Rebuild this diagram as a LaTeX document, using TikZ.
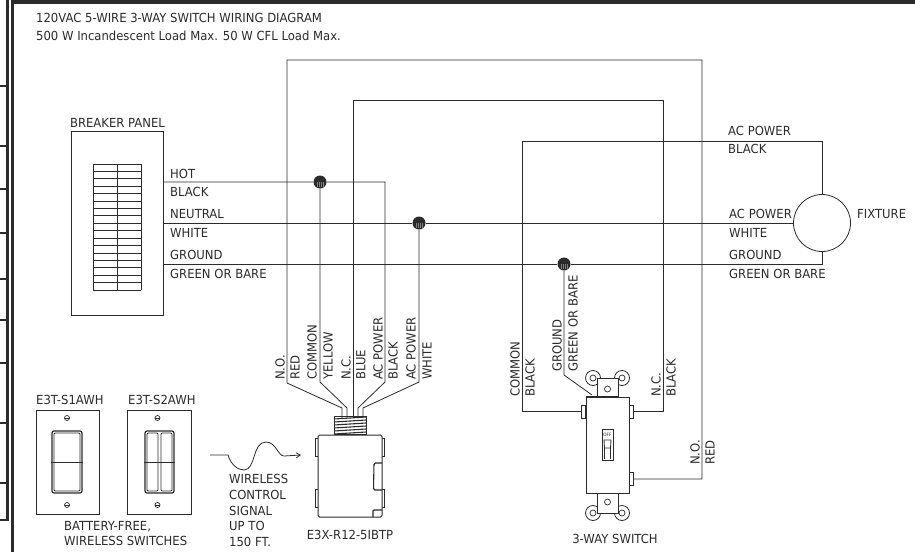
\documentclass[tikz,border=0pt]{standalone}
\usepackage{fontspec}
\setmainfont{DejaVu Sans}[FakeStretch=0.93]
\usetikzlibrary{arrows.meta}

\definecolor{ink}{HTML}{2B2B2B}
\tikzset{
	wire/.style={draw=ink, line width=0.8pt},
	thick wire/.style={draw=ink, line width=2.4pt},
	box/.style={draw=ink, line width=0.8pt, inner sep=0pt, fill=white},
	splice/.style={circle, fill=ink, inner sep=0pt, minimum size=13pt},
	label/.style={anchor=west, inner sep=0pt, text=ink, font=\fontsize{12.5}{15}\selectfont},
	center label/.style={label, anchor=center},
	wire label/.style={label, rotate=90},
	ear/.style={circle, draw=ink, line width=0.8pt, fill=white, inner sep=0pt, minimum size=15pt},
	hole/.style={circle, draw=ink, line width=0.7pt, inner sep=0pt, minimum size=6pt},
	screw/.style={circle, draw=ink, line width=0.7pt, inner sep=0pt, minimum size=5pt},
}

\begin{document}
\begin{tikzpicture}[x=1pt, y=-1pt]
	\useasboundingbox (0,0) rectangle (915,552);

	% sheet border
	\draw[thick wire, line width=4pt] (11,2) -- (915,2);
	\draw[thick wire, line width=3pt] (12,552) -- (12,0);
	\draw[thick wire] (7.5,0) -- (7.5,520) -- (0,520);
	\foreach \y in {86,146,189,233,279,320,363,423,483}
		\draw[thick wire] (0,\y) -- (8,\y);

	\node[label] (title) at (36,18) {120VAC 5-WIRE 3-WAY SWITCH WIRING DIAGRAM};
	\node[label] (subtitle) at (36,36) {500 W Incandescent Load Max. 50 W CFL Load Max.};

	% breaker panel
	\node[box, minimum width=92pt, minimum height=184pt] (panel) at (117,223) {};
	\node[center label] (panellabel) at (117.5,123) {BREAKER PANEL};
	\foreach \i in {0,...,17}
		\draw[wire] (93,164+7.41*\i) -- (141,164+7.41*\i);
	\draw[wire] (93,164) -- (93,290);
	\draw[wire] (117.5,164) -- (117.5,290);
	\draw[wire] (141,164) -- (141,290);

	% fixture
	\node[box, circle, minimum size=57pt] (fixture) at (822,223) {};
	\node[label] (fixturelabel) at (857,214) {FIXTURE};

	% splices
	\node[splice] (hotsplice) at (320,182) {};
	\node[splice] (neutralsplice) at (419,223) {};
	\node[splice] (groundsplice) at (564,264) {};

	% cable gland ends of the module leads
	\coordinate (lead1) at (342,418);
	\coordinate (lead2) at (347,418);
	\coordinate (lead3) at (353,418);
	\coordinate (lead4) at (358,418);
	\coordinate (lead5) at (363,418);

	% 3-way switch
	\node[ear] (eartl) at (593,378) {};
	\node[ear] (eartr) at (622,378) {};
	\node[ear] (earbl) at (593,513) {};
	\node[ear] (earbr) at (622,513) {};
	\node[hole] at (593,378) {};
	\node[hole] at (622,378) {};
	\node[hole] at (593,513) {};
	\node[hole] at (622,513) {};
	\node[box, minimum width=21pt, minimum height=26pt] (yoketop) at (607.5,391) {};
	\node[box, minimum width=21pt, minimum height=26pt] (yokebot) at (607.5,500) {};
	\node[hole] at (607.5,389) {};
	\node[hole] at (607.5,502) {};
	\node[box, minimum width=4pt, minimum height=13pt] (commonlug) at (583,411.5) {};
	\node[box, minimum width=4pt, minimum height=13pt] (nclug) at (631,411.5) {};
	\node[box, minimum width=4pt, minimum height=13pt] (nolug) at (631,479) {};
	\node[box, minimum width=43pt, minimum height=96pt] (switch) at (607.5,445) {};
	\node[box, minimum width=11pt, minimum height=31pt] (toggle) at (607.5,444.5) {};
	\node[inner sep=0pt, text=ink, font=\fontsize{4.5}{5}\selectfont] (off) at (607.5,435) {OFF};
	\draw[wire] (604,440) -- (611,440) -- (610.5,448) -- (604.5,448) -- cycle;
	\draw[wire] (604.5,448) -- (604.5,459) (610.5,448) -- (610.5,459);
	\draw[thick wire, line width=1.3pt] (586,397) -- (618,397);
	\node[center label] (switchlabel) at (615,539) {3-WAY SWITCH};

	% load module
	\foreach \y in {441.5,492.5}
		\node[box, minimum width=4pt, minimum height=18pt] at (317,\y+6) {};
	\foreach \y in {441.5,492.5}
		\node[box, minimum width=3pt, minimum height=18pt] at (382.5,\y+6) {};
	\node[box, rounded corners=1.5pt, line width=1pt, minimum width=64pt, minimum height=82pt] (module) at (350,476) {};
	\draw[wire, line width=1.1pt, rounded corners=1.5pt] (382,463) -- (374,463) -- (373.5,490) -- (382,490);
	\draw[wire, line width=1.1pt, rounded corners=1pt] (373,517) -- (373,510) -- (382,510);
	\node[center label] (modulelabel) at (350,535) {E3X-R12-5IBTP};
	\node[box, fill=none, line width=1pt, minimum width=32pt, minimum height=18pt] (gland) at (350,425) {};
	\foreach \y in {419,422,425,428,431,434}
		\draw[wire, line width=1.1pt] (334,\y) -- (366,\y-2);

	% wires
	\draw[wire] (lead1) -- (342,408) -- (287,383) -- (287,60) -- (702,60) -- (702,479) -- (nolug.east);
	\draw[wire] (lead2) -- (347,408) -- (320,382) -- (hotsplice);
	\draw[wire] (lead3) -- (353,100) -- (663,100) -- (663,411.5) -- (nclug.east);
	\draw[wire] (lead4) -- (358,408) -- (385,382) -- (385,182) -- (hotsplice) -- (panel.east |- hotsplice);
	\draw[wire] (lead5) -- (363,408) -- (419,382) -- (neutralsplice);
	\draw[wire] (panel.east) -- (neutralsplice) -- (fixture.west);
	\draw[wire] (panel.east |- groundsplice) -- (groundsplice) -- (822,264) -- (fixture.south);
	\draw[wire] (commonlug.west) -- (522,411.5) -- (522,141) -- (822,141) -- (fixture.north);
	\draw[wire] (groundsplice) -- (564,375) -- (592,395);

	% stripes in the splices
	\foreach \name in {hotsplice,neutralsplice,groundsplice}
		\foreach \dx in {-3,-1,1,3}
			\draw[gray, line width=0.4pt] ([xshift=\dx pt]\name.center) -- ([xshift=\dx pt, yshift=-5pt]\name.center);

	% labels on the wires
	\node[label] (hotlabel) at (170,174) {HOT};
	\node[label] (blacklabel) at (170,192) {BLACK};
	\node[label] (neutrallabel) at (170,214) {NEUTRAL};
	\node[label] (whitelabel) at (170,233) {WHITE};
	\node[label] (groundlabel) at (170,255) {GROUND};
	\node[label] (barelabel) at (170,274) {GREEN OR BARE};

	\node[label] (fpowerlabel) at (728,131) {AC POWER};
	\node[label] (fblacklabel) at (728,149) {BLACK};
	\node[label] (npowerlabel) at (729,214) {AC POWER};
	\node[label] (nwhitelabel) at (729,233) {WHITE};
	\node[label] (fgroundlabel) at (729,255) {GROUND};
	\node[label] (fbarelabel) at (729,274) {GREEN OR BARE};

	\node[wire label] (m1) at (280,380) {N.O.};
	\node[wire label] (m2) at (295,380) {RED};
	\node[wire label] (m3) at (312,380) {COMMON};
	\node[wire label] (m4) at (328,380) {YELLOW};
	\node[wire label] (m5) at (346,380) {N.C.};
	\node[wire label] (m6) at (361,380) {BLUE};
	\node[wire label] (m7) at (378,380) {AC POWER};
	\node[wire label] (m8) at (393,380) {BLACK};
	\node[wire label] (m9) at (411,380) {AC POWER};
	\node[wire label] (m10) at (427,380) {WHITE};

	\node[wire label] (s1) at (515,397) {COMMON};
	\node[wire label] (s2) at (530,397) {BLACK};
	\node[wire label] (s3) at (557,372) {GROUND};
	\node[wire label] (s4) at (573,372) {GREEN OR BARE};
	\node[wire label] (s5) at (656,397) {N.C.};
	\node[wire label] (s6) at (671,397) {BLACK};
	\node[wire label] (s7) at (695,465) {N.O.};
	\node[wire label] (s8) at (710,465) {RED};

	% wireless switches
	\node[label] (onelabel) at (36,400) {E3T-S1AWH};
	\node[label] (twolabel) at (128,400) {E3T-S2AWH};
	\node[box, minimum width=63pt, minimum height=104pt] (plateone) at (67.5,462) {};
	\node[box, minimum width=64pt, minimum height=104pt] (platetwo) at (159,462) {};
	\foreach \x in {67,157.5} {
		\node[screw] at (\x,418) {};
		\node[screw] at (\x,505) {};
		\draw[wire, line width=0.5pt] (\x-2.5,418) -- (\x+2.5,418) (\x-2.5,505) -- (\x+2.5,505);
	}
	\node[box, rounded corners=2pt, line width=1.2pt, minimum width=30pt, minimum height=62pt] (rocker) at (67,462) {};
	\node[box, rounded corners=1pt, minimum width=26pt, minimum height=58pt] at (67,462) {};
	\draw[wire, line width=0.6pt] (rocker.west) -- (rocker.east);
	\node[box, rounded corners=2pt, line width=1.2pt, minimum width=29pt, minimum height=62pt] (rockertwo) at (159.5,462) {};
	\node[box, rounded corners=1pt, minimum width=11pt, minimum height=58pt] at (152.5,462) {};
	\node[box, rounded corners=1pt, minimum width=11pt, minimum height=58pt] at (166.5,462) {};
	\draw[wire, line width=0.6pt] (rockertwo.west) -- (rockertwo.east);
	\node[inner sep=0pt, align=left, anchor=north west, text=ink, font=\fontsize{12.5}{15.2}\selectfont] (batterylabel) at (64,521) {BATTERY-FREE,\\WIRELESS SWITCHES};

	% wireless signal
	\coordinate (signalstart) at (210,455);
	\coordinate (signalend) at (301,455);
	\draw[wire, -{Straight Barb[length=4pt,width=5pt]}] (signalstart) -- (228,455)
		.. controls (231,465) and (238,470) .. (244,470)
		.. controls (256,470) and (252,442) .. (266,442)
		.. controls (276,442) and (278,456) .. (284,456) -- (signalend);
	\node[inner sep=0pt, align=left, anchor=north west, text=ink, font=\fontsize{12.5}{15.8}\selectfont] (signallabel) at (229,474) {WIRELESS\\CONTROL\\SIGNAL\\UP TO\\150 FT.};
\end{tikzpicture}
\end{document}
